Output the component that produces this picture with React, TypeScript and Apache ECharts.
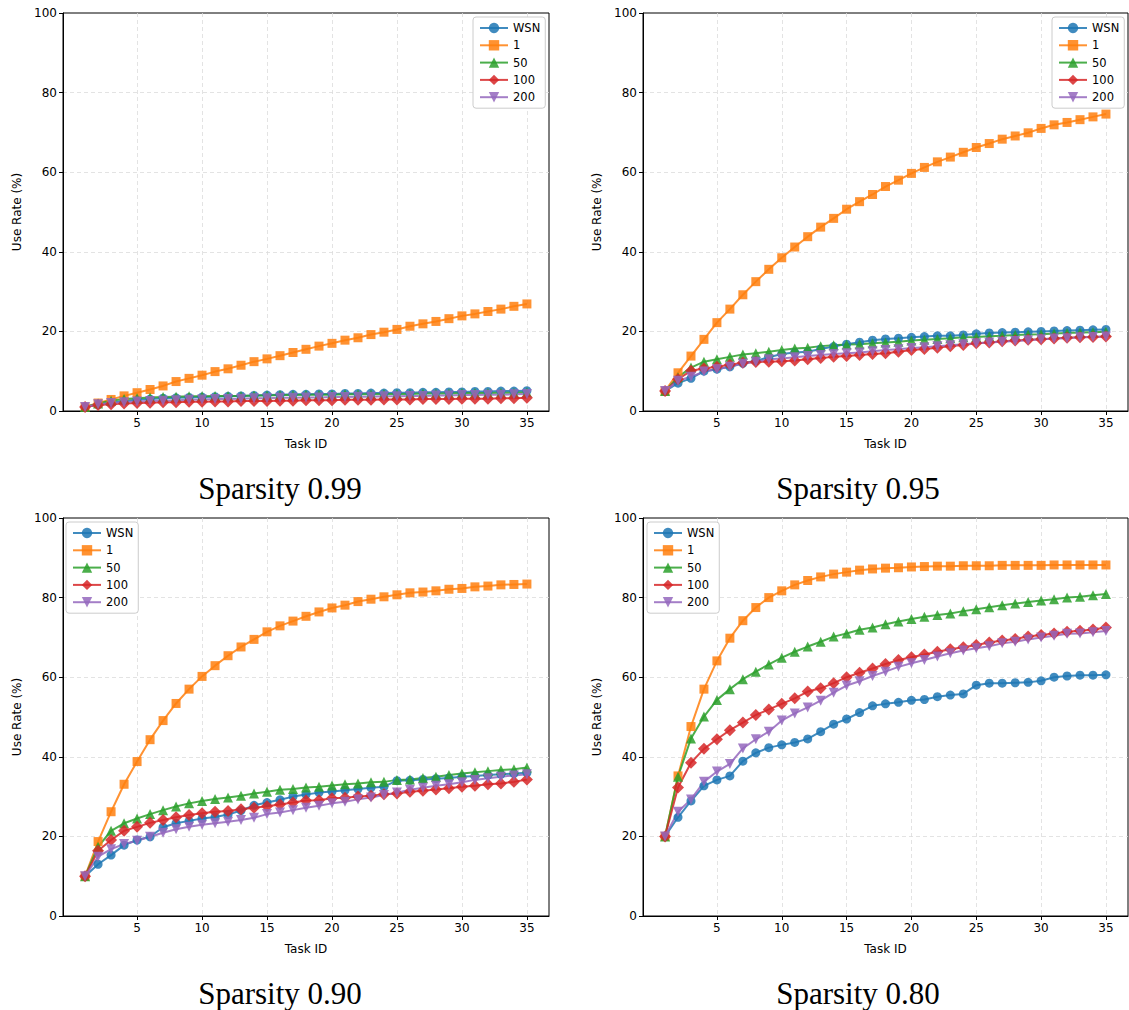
import React, { useEffect, useRef } from "react";
import * as echarts from "echarts";

const TASKS = [1, 2, 3, 4, 5, 6, 7, 8, 9, 10, 11, 12, 13, 14, 15, 16, 17, 18, 19, 20, 21, 22, 23, 24, 25, 26, 27, 28, 29, 30, 31, 32, 33, 34, 35];
const X_TICKS = [5, 10, 15, 20, 25, 30, 35];
const SERIES_NAMES = ["WSN", "1", "50", "100", "200"];
const PANEL_TITLES = ["Sparsity 0.99", "Sparsity 0.95", "Sparsity 0.90", "Sparsity 0.80"];

// Sparsity 0.99
const wsn99 = [1.0, 1.6, 2.1, 2.5, 2.8, 3.0, 3.2, 3.3, 3.4, 3.5, 3.6, 3.7, 3.8, 3.9, 4.0, 4.1, 4.2, 4.2, 4.3, 4.3, 4.4, 4.4, 4.5, 4.5, 4.6, 4.6, 4.7, 4.7, 4.8, 4.8, 4.9, 4.9, 5.0, 5.0, 5.1];
const s1_99 = [1.0, 2.0, 2.9, 3.8, 4.6, 5.4, 6.3, 7.4, 8.2, 9.0, 9.9, 10.6, 11.5, 12.4, 13.1, 13.9, 14.7, 15.5, 16.3, 17.0, 17.8, 18.4, 19.2, 19.8, 20.5, 21.3, 21.9, 22.5, 23.2, 23.9, 24.4, 25.0, 25.6, 26.3, 26.9];
const s50_99 = [1.0, 1.9, 2.6, 3.0, 3.2, 3.4, 3.5, 3.6, 3.7, 3.7, 3.8, 3.8, 3.8, 3.9, 3.9, 4.0, 4.0, 4.1, 4.1, 4.1, 4.2, 4.2, 4.2, 4.3, 4.3, 4.3, 4.4, 4.4, 4.4, 4.5, 4.5, 4.5, 4.6, 4.6, 4.7];
const s100_99 = [1.0, 1.5, 1.7, 1.9, 2.0, 2.1, 2.2, 2.2, 2.3, 2.3, 2.4, 2.4, 2.5, 2.5, 2.5, 2.6, 2.6, 2.7, 2.7, 2.7, 2.8, 2.8, 2.8, 2.9, 2.9, 2.9, 3.0, 3.0, 3.0, 3.1, 3.1, 3.1, 3.2, 3.2, 3.3];
const s200_99 = [1.0, 1.7, 2.0, 2.2, 2.4, 2.5, 2.6, 2.7, 2.8, 2.9, 3.0, 3.0, 3.1, 3.2, 3.2, 3.3, 3.3, 3.4, 3.4, 3.5, 3.5, 3.6, 3.6, 3.7, 3.7, 3.8, 3.8, 3.9, 3.9, 4.0, 4.0, 4.1, 4.1, 4.2, 4.3];

// Sparsity 0.95
const wsn95 = [5.0, 7.0, 8.2, 10.0, 10.5, 11.1, 12.0, 12.6, 13.5, 14.3, 14.7, 14.9, 15.6, 16.2, 16.8, 17.3, 17.8, 18.1, 18.3, 18.5, 18.7, 18.9, 18.9, 19.1, 19.4, 19.6, 19.7, 19.8, 19.9, 20.0, 20.1, 20.2, 20.3, 20.4, 20.5];
const s1_95 = [5.0, 9.6, 13.8, 18.0, 22.2, 25.6, 29.2, 32.5, 35.6, 38.5, 41.2, 43.8, 46.2, 48.4, 50.7, 52.6, 54.4, 56.4, 58.0, 59.7, 61.2, 62.6, 63.8, 65.0, 66.2, 67.2, 68.3, 69.1, 69.9, 71.0, 71.9, 72.5, 73.2, 73.9, 74.6];
const s50_95 = [5.0, 8.5, 10.9, 12.4, 13.0, 13.6, 14.2, 14.5, 14.9, 15.3, 15.7, 15.9, 16.3, 16.5, 16.7, 16.8, 17.0, 17.2, 17.4, 17.7, 17.9, 18.1, 18.3, 18.5, 18.6, 18.8, 18.9, 19.1, 19.2, 19.3, 19.5, 19.6, 19.7, 19.8, 19.9];
const s100_95 = [5.0, 8.0, 10.1, 10.7, 11.1, 11.6, 12.1, 12.3, 12.4, 12.5, 12.7, 13.0, 13.3, 13.6, 13.8, 14.1, 14.3, 14.5, 14.9, 15.3, 15.6, 15.9, 16.3, 16.6, 17.0, 17.2, 17.5, 17.7, 17.9, 18.0, 18.2, 18.4, 18.5, 18.6, 18.7];
const s200_95 = [5.0, 7.6, 8.6, 9.9, 10.5, 11.1, 11.9, 12.4, 13.0, 13.2, 13.5, 13.8, 14.1, 14.3, 14.5, 14.7, 15.0, 15.3, 15.5, 15.8, 16.0, 16.3, 16.5, 16.8, 17.0, 17.2, 17.4, 17.6, 17.8, 18.0, 18.2, 18.3, 18.5, 18.6, 18.7];

// Sparsity 0.90
const wsn90 = [10.0, 13.0, 15.3, 17.8, 19.1, 19.9, 22.3, 23.3, 23.9, 24.5, 24.9, 25.5, 26.5, 27.8, 28.5, 29.2, 30.0, 30.5, 31.0, 31.3, 31.6, 31.9, 32.2, 32.5, 34.0, 34.1, 34.3, 34.5, 34.7, 35.0, 35.2, 35.4, 35.6, 35.8, 36.0];
const s1_90 = [10.0, 18.7, 26.2, 33.1, 38.8, 44.3, 49.1, 53.4, 57.0, 60.2, 62.9, 65.4, 67.6, 69.5, 71.4, 72.9, 74.1, 75.3, 76.4, 77.4, 78.1, 79.0, 79.6, 80.2, 80.7, 81.2, 81.4, 81.7, 82.1, 82.3, 82.7, 82.9, 83.2, 83.3, 83.4];
const s50_90 = [10.0, 17.4, 21.4, 23.3, 24.5, 25.6, 26.6, 27.5, 28.3, 28.9, 29.4, 29.8, 30.2, 30.8, 31.2, 31.7, 31.9, 32.3, 32.5, 32.8, 33.1, 33.3, 33.6, 33.7, 34.2, 34.3, 34.7, 35.0, 35.4, 35.8, 36.1, 36.4, 36.7, 36.9, 37.3];
const s100_90 = [10.0, 16.4, 19.1, 21.4, 22.4, 23.4, 24.1, 24.8, 25.4, 25.8, 26.2, 26.4, 26.8, 27.2, 27.6, 28.0, 28.5, 29.0, 29.1, 29.6, 29.7, 30.0, 30.2, 30.6, 30.8, 31.2, 31.5, 31.8, 32.1, 32.5, 32.7, 33.1, 33.3, 33.7, 34.3];
const s200_90 = [10.0, 14.9, 16.8, 18.1, 18.9, 19.9, 20.9, 21.8, 22.4, 22.9, 23.3, 23.7, 24.1, 24.7, 25.6, 26.0, 26.6, 27.2, 27.7, 28.3, 28.7, 29.3, 29.8, 30.4, 31.0, 31.7, 32.2, 32.7, 33.1, 33.6, 34.2, 34.6, 35.0, 35.3, 35.6];

// Sparsity 0.80
const wsn80 = [20.0, 24.8, 28.9, 32.7, 34.2, 35.2, 38.9, 41.0, 42.3, 43.0, 43.6, 44.5, 46.3, 48.2, 49.5, 51.1, 52.8, 53.3, 53.7, 54.2, 54.4, 55.1, 55.5, 55.8, 58.0, 58.5, 58.5, 58.6, 58.7, 59.1, 60.0, 60.3, 60.5, 60.5, 60.6];
const s1_80 = [20.0, 35.2, 47.6, 57.0, 64.1, 69.8, 74.2, 77.5, 80.0, 81.7, 83.2, 84.3, 85.2, 85.9, 86.4, 86.9, 87.2, 87.4, 87.5, 87.7, 87.8, 87.9, 87.9, 88.0, 88.0, 88.0, 88.1, 88.1, 88.1, 88.1, 88.2, 88.2, 88.2, 88.2, 88.2];
const s50_80 = [20.0, 35.0, 44.6, 50.1, 54.3, 57.0, 59.5, 61.4, 63.2, 64.9, 66.4, 67.7, 68.9, 70.2, 71.0, 71.9, 72.5, 73.3, 74.0, 74.6, 75.2, 75.6, 76.0, 76.6, 77.1, 77.6, 78.1, 78.5, 78.9, 79.3, 79.6, 80.0, 80.2, 80.6, 80.9];
const s100_80 = [20.0, 32.3, 38.5, 42.0, 44.4, 46.7, 48.6, 50.5, 51.9, 53.3, 54.7, 56.4, 57.2, 58.5, 60.0, 61.1, 62.2, 63.3, 64.3, 65.0, 65.7, 66.4, 67.0, 67.5, 68.1, 68.7, 69.2, 69.6, 70.2, 70.6, 71.0, 71.4, 71.7, 72.0, 72.5];
const s200_80 = [20.0, 26.2, 29.3, 33.7, 36.3, 38.2, 42.1, 44.4, 46.3, 49.1, 50.9, 52.4, 54.1, 56.1, 57.9, 59.0, 60.3, 61.4, 62.6, 63.5, 64.3, 65.2, 66.0, 66.7, 67.3, 67.8, 68.5, 68.9, 69.5, 70.0, 70.4, 70.9, 71.0, 71.3, 71.6];

const PANELS = [
  [wsn99, s1_99, s50_99, s100_99, s200_99],
  [wsn95, s1_95, s50_95, s100_95, s200_95],
  [wsn90, s1_90, s50_90, s100_90, s200_90],
  [wsn80, s1_80, s50_80, s100_80, s200_80],
];

const STYLES = [
  { color: "#1f77b4", symbol: "circle", size: 9, rotate: 0 },
  { color: "#ff7f0e", symbol: "rect", size: 9, rotate: 0 },
  { color: "#2ca02c", symbol: "triangle", size: 10, rotate: 0 },
  { color: "#d62728", symbol: "diamond", size: 12, rotate: 0 },
  { color: "#9467bd", symbol: "triangle", size: 10, rotate: 180 },
];

// grid boxes [left, top, width, height]
const GRIDS = [
  [63, 13, 486, 398],
  [643, 13, 485, 398],
  [63, 518, 486, 398],
  [643, 518, 485, 398],
];

const FONT = "DejaVu Sans";

export default function App() {
  const ref = useRef<HTMLDivElement>(null);
  useEffect(() => {
    if (!ref.current) return;
    const chart = echarts.init(ref.current, null, { renderer: "svg" });
    const grid = GRIDS.map(([l, t, w, h]) => ({
      left: l, top: t, width: w, height: h,
      show: true, borderColor: "#000", borderWidth: 1, backgroundColor: "#fff",
    }));
    const xAxis = GRIDS.map((_, i) => ({
      type: "value", gridIndex: i, min: -0.7, max: 36.7,
      name: "Task ID", nameLocation: "middle", nameGap: 27,
      nameTextStyle: { fontFamily: FONT, fontSize: 12, color: "#000" },
      axisLine: { show: true, onZero: false, lineStyle: { color: "#000", width: 1 } },
      axisTick: { show: true, length: 4, customValues: X_TICKS, lineStyle: { color: "#000" } },
      axisLabel: { customValues: X_TICKS, margin: 6, fontFamily: FONT, fontSize: 12, color: "#000" },
      splitLine: { show: true, lineStyle: { color: "#dcdcdc", type: [4, 3], width: 0.8 } },
    }));
    const yAxis = GRIDS.map((_, i) => ({
      type: "value", gridIndex: i, min: 0, max: 100, interval: 20,
      name: "Use Rate (%)", nameLocation: "middle", nameGap: 40,
      nameTextStyle: { fontFamily: FONT, fontSize: 12, color: "#000" },
      axisLine: { show: true, onZero: false, lineStyle: { color: "#000", width: 1 } },
      axisTick: { show: true, length: 4, lineStyle: { color: "#000" } },
      axisLabel: { margin: 6, fontFamily: FONT, fontSize: 12, color: "#000" },
      splitLine: {
        show: true, showMinLine: false, showMaxLine: false,
        lineStyle: { color: "#dcdcdc", type: [4, 3], width: 0.8 },
      },
    }));
    const series: any[] = [];
    PANELS.forEach((panel, gi) => {
      panel.forEach((vals, si) => {
        const st = STYLES[si];
        series.push({
          type: "line", name: SERIES_NAMES[si], xAxisIndex: gi, yAxisIndex: gi,
          data: TASKS.map((t, k) => [t, vals[k]]),
          symbol: st.symbol, symbolSize: st.size, symbolRotate: st.rotate, showSymbol: true,
          lineStyle: { color: st.color, width: 2, opacity: 0.85 },
          itemStyle: { color: st.color, opacity: 0.85 },
          emphasis: { disabled: true },
        });
      });
    });
    const legendBase = {
      orient: "vertical", data: SERIES_NAMES, backgroundColor: "#fff",
      borderColor: "#ccc", borderWidth: 1, borderRadius: 3, padding: [5, 5, 5, 6],
      itemGap: 5.3, itemWidth: 28, itemHeight: 13,
      textStyle: { fontFamily: FONT, fontSize: 11.5, color: "#000" },
    };
    const legend = [
      { ...legendBase, left: 473, top: 17 },
      { ...legendBase, left: 1052, top: 17 },
      { ...legendBase, left: 66, top: 522 },
      { ...legendBase, left: 647, top: 522 },
    ];
    const titlePos = [[280, 488], [858, 488], [280, 993], [858, 993]];
    const graphic = titlePos.map(([x, y], i) => ({
      type: "text", x, y, z: 10,
      style: {
        text: PANEL_TITLES[i], fill: "#000",
        font: '31px "Liberation Serif"', align: "center", verticalAlign: "middle",
      },
    }));
    chart.setOption({
      animation: false,
      backgroundColor: "#fff",
      grid, xAxis, yAxis, series, legend, graphic,
    });
    return () => chart.dispose();
  }, []);
  return (
    <div
      ref={ref}
      style={{ position: "fixed", left: 0, top: 0, width: 1129, height: 1010 }}
    />
  );
}
